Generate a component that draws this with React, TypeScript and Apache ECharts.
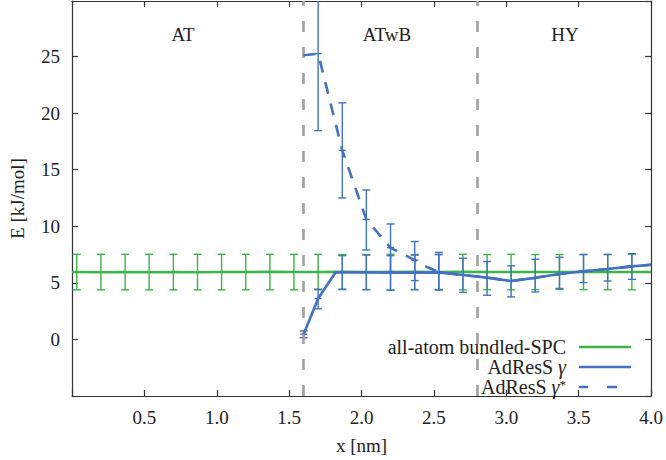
import React, { useEffect, useRef } from "react";
import * as echarts from "echarts";

// ---- data ----
const binX = [0.033, 0.2, 0.367, 0.533, 0.7, 0.867, 1.033, 1.2, 1.367, 1.533, 1.7, 1.867, 2.033, 2.2, 2.367, 2.533, 2.7, 2.867, 3.033, 3.2, 3.367, 3.533, 3.7, 3.867];
const atLineX = [0, 0.033, 0.2, 0.367, 0.533, 0.7, 0.867, 1.033, 1.2, 1.367, 1.533, 1.7, 1.867, 2.033, 2.2, 2.367, 2.533, 2.7, 2.867, 3.033, 3.2, 3.367, 3.533, 3.7, 3.867, 4.0];
const atLineY = [5.95, 5.95, 5.93, 5.96, 5.93, 5.95, 5.94, 5.96, 5.95, 5.97, 5.95, 5.96, 5.97, 5.96, 5.96, 5.97, 5.95, 5.97, 5.96, 5.95, 5.96, 5.95, 5.96, 5.95, 5.95, 5.95];
const atErrLow = [4.38, 4.38, 4.38, 4.38, 4.38, 4.38, 4.38, 4.38, 4.38, 4.38, 4.38, 4.4, 4.4, 4.38, 4.4, 4.4, 4.38, 4.4, 4.38, 4.4, 4.42, 4.4, 4.38, 4.38];
const atErrHigh = [7.52, 7.52, 7.52, 7.52, 7.52, 7.52, 7.52, 7.52, 7.52, 7.52, 7.52, 7.5, 7.5, 7.52, 7.5, 7.5, 7.52, 7.5, 7.52, 7.5, 7.5, 7.52, 7.52, 7.52];

const gammaX = [1.6, 1.7, 1.82, 1.867, 2.033, 2.2, 2.367, 2.533, 2.7, 2.867, 3.033, 3.2, 3.367, 3.533, 3.7, 3.867, 4.0];
const gammaY = [0.45, 3.62, 5.92, 5.93, 5.92, 5.9, 5.9, 5.92, 5.69, 5.46, 5.16, 5.44, 5.78, 6.02, 6.22, 6.45, 6.6];
const gammaErrX = [1.6, 1.7, 1.867, 2.033, 2.2, 2.367, 2.533, 2.7, 2.867, 3.033, 3.2, 3.367, 3.533, 3.7, 3.867];
const gammaErrMid = [0.45, 3.62, 5.93, 5.92, 5.9, 5.9, 5.92, 5.69, 5.46, 5.16, 5.44, 5.78, 6.02, 6.22, 6.45];
const gammaErrLow = [0.15, 2.7, 4.44, 4.4, 4.35, 4.4, 4.37, 4.15, 3.9, 3.76, 4.19, 4.5, 5.02, 5.16, 5.31];
const gammaErrHigh = [0.75, 4.44, 7.4, 7.45, 7.4, 7.45, 7.5, 7.17, 6.88, 6.5, 7.08, 7.26, 7.49, 7.49, 7.58];

const gstarX = [1.6, 1.7, 1.867, 2.033, 2.2, 2.367, 2.45, 2.533, 2.7, 2.867, 3.033, 3.2, 3.367, 3.533, 3.7, 3.867, 4.0];
const gstarY = [25.1, 25.25, 16.7, 10.6, 8.1, 7.0, 6.4, 5.95, 5.69, 5.46, 5.16, 5.44, 5.78, 6.02, 6.22, 6.45, 6.6];
const gstarErrX = [1.7, 1.867, 2.033, 2.2, 2.367, 2.533];
const gstarErrMid = [25.25, 16.7, 10.6, 8.1, 7.0, 5.95];
const gstarErrLow = [18.45, 12.5, 7.9, 6.0, 5.2, 4.4];
const gstarErrHigh = [32.0, 20.9, 13.2, 10.2, 8.65, 7.69];

const boundaries = [1.6, 2.8];
const regionLabels = ["AT", "ATwB", "HY"];
const seriesNames = ["all-atom bundled-SPC", "AdResS γ", "AdResS γ*"];

const FONT = "Liberation Serif, serif";
const GREEN = "#3db54a";
const BLUE = "#4472c0";
const TXT = "#222";

const SOLID_ICON = "path://M0,0h52v2.6h-52z";
const DASH_ICON = "path://M0,0h9v2.6h-9z M28,0h10v2.6h-10z M52,0v2.6v-2.6z";

function errRender(color: string, capHalf: number, plusHalf: number) {
  return (params: any, api: any) => {
    const x = api.value(0);
    const lo = api.value(1);
    const hi = api.value(2);
    const mid = api.value(3);
    const cs = params.coordSys;
    const top = cs.y;
    const bottom = cs.y + cs.height;
    const pLo = api.coord([x, lo]);
    const pHi = api.coord([x, hi]);
    const pMid = api.coord([x, mid]);
    const style = { stroke: color, lineWidth: 1.4 };
    const yHi = Math.max(pHi[1], top);
    const yLo = Math.min(pLo[1], bottom);
    const children: any[] = [
      { type: "line", shape: { x1: pLo[0], y1: yLo, x2: pHi[0], y2: yHi }, style },
    ];
    if (pLo[1] <= bottom)
      children.push({ type: "line", shape: { x1: pLo[0] - capHalf, y1: pLo[1], x2: pLo[0] + capHalf, y2: pLo[1] }, style });
    if (pHi[1] >= top)
      children.push({ type: "line", shape: { x1: pHi[0] - capHalf, y1: pHi[1], x2: pHi[0] + capHalf, y2: pHi[1] }, style });
    if (plusHalf > 0)
      children.push({ type: "line", shape: { x1: pMid[0] - plusHalf, y1: pMid[1], x2: pMid[0] + plusHalf, y2: pMid[1] }, style });
    return { type: "group", children };
  };
}

export default function App() {
  const ref = useRef<HTMLDivElement>(null);
  useEffect(() => {
    const chart = echarts.init(ref.current!, null, { renderer: "svg" });
    const axisLine = { show: true, onZero: false, lineStyle: { color: "#333", width: 1.2 } };
    const axisTick = { show: true, inside: true, length: 6, lineStyle: { color: "#333", width: 1.2 } };
    const labelStyle = { fontFamily: FONT, fontSize: 19, color: TXT };

    const option: any = {
      animation: false,
      backgroundColor: "#fff",
      textStyle: { fontFamily: FONT },
      grid: { left: 65, right: 9, top: 1, bottom: 58, containLabel: false },
      xAxis: [
        {
          type: "value", min: 0, max: 4, interval: 0.5, position: "bottom",
          axisLine, axisTick, splitLine: { show: false },
          axisLabel: { ...labelStyle, margin: 12, formatter: (v: number) => (v === 0 ? "" : v.toFixed(1)) },
          name: "x [nm]", nameLocation: "middle", nameGap: 40,
          nameTextStyle: { ...labelStyle },
        },
        {
          type: "value", min: 0, max: 4, interval: 0.5, position: "top",
          axisLine, axisTick, splitLine: { show: false }, axisLabel: { show: false },
        },
      ],
      yAxis: [
        {
          type: "value", min: -5, max: 29.9, interval: 5, position: "left",
          axisLine, axisTick, splitLine: { show: false },
          axisLabel: { ...labelStyle, margin: 12, showMaxLabel: false, formatter: (v: number) => (v < 0 || v > 25.5 ? "" : String(v)) },
          name: "E [kJ/mol]", nameLocation: "middle", nameGap: 45,
          nameTextStyle: { ...labelStyle },
        },
        {
          type: "value", min: -5, max: 29.9, interval: 5, position: "right",
          axisLine, axisTick, splitLine: { show: false }, axisLabel: { show: false },
        },
      ],
      legend: {
        orient: "vertical", right: 35, top: 337, align: "right",
        itemWidth: 52, itemHeight: 2.6, itemGap: 0, padding: 0,
        data: [
          { name: seriesNames[0], icon: SOLID_ICON },
          { name: seriesNames[1], icon: SOLID_ICON },
          { name: seriesNames[2], icon: DASH_ICON },
        ],
        formatter: (name: string) => {
          if (name === seriesNames[1]) return "{t|AdResS }{g|γ}";
          if (name === seriesNames[2]) return "{t|AdResS }{g|γ}{s|*}";
          return "{t|" + name + "}";
        },
        textStyle: {
          fontFamily: FONT, fontSize: 20, color: TXT, lineHeight: 19, padding: [0, 8, 0, 0],
          rich: {
            t: { fontFamily: FONT, fontSize: 20, color: TXT, lineHeight: 19 },
            g: { fontFamily: FONT, fontSize: 20, color: TXT, fontStyle: "italic", lineHeight: 19 },
            s: { fontFamily: FONT, fontSize: 13, color: TXT, verticalAlign: "top", lineHeight: 19 },
          },
        },
      },
      graphic: [
        { type: "text", x: 183, y: 34, style: { text: regionLabels[0], fontFamily: FONT, fontSize: 19, fill: TXT, align: "center", verticalAlign: "middle" } },
        { type: "text", x: 387, y: 34, style: { text: regionLabels[1], fontFamily: FONT, fontSize: 19, fill: TXT, align: "center", verticalAlign: "middle" } },
        { type: "text", x: 565, y: 34, style: { text: regionLabels[2], fontFamily: FONT, fontSize: 19, fill: TXT, align: "center", verticalAlign: "middle" } },
      ],
      series: [
        {
          type: "custom", name: "at-err", renderItem: errRender(GREEN, 4, 0), clip: true,
          data: binX.map((x, i) => [x, atErrLow[i], atErrHigh[i], atLineY[i + 1]]),
          z: 2, silent: true,
        },
        {
          type: "line", name: seriesNames[0], symbol: "none", showSymbol: false,
          data: atLineX.map((x, i) => [x, atLineY[i]]),
          lineStyle: { color: GREEN, width: 2.6 }, itemStyle: { color: GREEN }, z: 3,
          markLine: {
            silent: true, symbol: ["none", "none"], label: { show: false },
            lineStyle: { color: "#a0a0a0", width: 2.6, type: [11, 15] },
            data: boundaries.map((b) => ({ xAxis: b })),
          },
        },
        {
          type: "custom", name: "gamma-err", renderItem: errRender(BLUE, 4, 3.5), clip: true,
          data: gammaErrX.map((x, i) => [x, gammaErrLow[i], gammaErrHigh[i], gammaErrMid[i]]),
          z: 4, silent: true,
        },
        {
          type: "custom", name: "gstar-err", renderItem: errRender(BLUE, 4, 3.5), clip: true,
          data: gstarErrX.map((x, i) => [x, gstarErrLow[i], gstarErrHigh[i], gstarErrMid[i]]),
          z: 4, silent: true,
        },
        {
          type: "line", name: seriesNames[1], symbol: "none", showSymbol: false,
          data: gammaX.map((x, i) => [x, gammaY[i]]),
          lineStyle: { color: BLUE, width: 2.6 }, itemStyle: { color: BLUE }, z: 5,
        },
        {
          type: "line", name: seriesNames[2], symbol: "none", showSymbol: false,
          data: gstarX.map((x, i) => [x, gstarY[i]]),
          lineStyle: { color: BLUE, width: 2.6, type: [12, 10] }, itemStyle: { color: BLUE }, z: 5,
        },
      ],
    };
    chart.setOption(option);
    return () => chart.dispose();
  }, []);
  return (
    <div
      ref={ref}
      style={{ position: "absolute", left: 0, top: 0, width: 666, height: 460, background: "#fff" }}
    />
  );
}
